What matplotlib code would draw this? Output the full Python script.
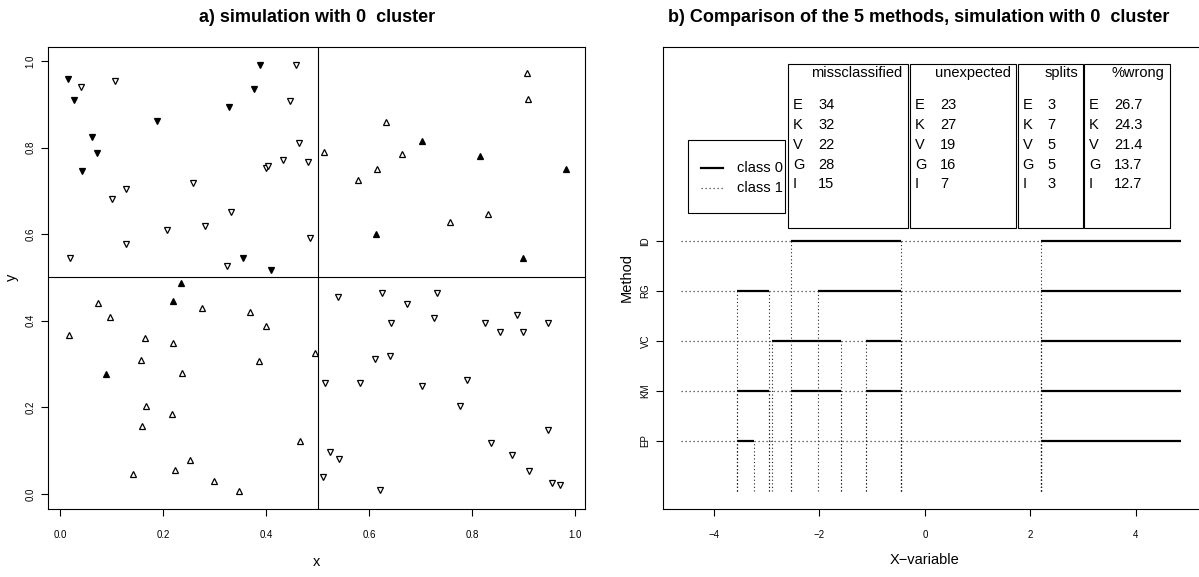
import matplotlib
matplotlib.use('Agg')
import matplotlib.pyplot as plt
from matplotlib.patches import Rectangle
from matplotlib.lines import Line2D

plt.rcParams['font.family'] = ['Liberation Sans', 'DejaVu Sans']

# ---- panel a: simulated points ----
x_open_up = [0.906, 0.908, 0.632, 0.512, 0.664, 0.615, 0.578, 0.830, 0.757,
             0.017, 0.074, 0.097, 0.165, 0.157, 0.219, 0.237, 0.275, 0.368, 0.399,
             0.385, 0.495, 0.166, 0.217, 0.158, 0.142, 0.222, 0.251, 0.298, 0.347, 0.465]
y_open_up = [0.972, 0.912, 0.859, 0.790, 0.785, 0.750, 0.724, 0.647, 0.627,
             0.367, 0.440, 0.409, 0.360, 0.309, 0.349, 0.279, 0.430, 0.420, 0.388,
             0.307, 0.326, 0.204, 0.184, 0.158, 0.045, 0.055, 0.078, 0.031, 0.008, 0.122]

x_fill_up = [0.702, 0.814, 0.981, 0.613, 0.899, 0.234, 0.219, 0.089]
y_fill_up = [0.815, 0.781, 0.750, 0.601, 0.546, 0.488, 0.446, 0.278]

x_open_down = [0.040, 0.106, 0.019, 0.100, 0.128, 0.128, 0.207, 0.258, 0.280, 0.332,
               0.324, 0.399, 0.403, 0.433, 0.446, 0.458, 0.464, 0.481, 0.485,
               0.539, 0.625, 0.731, 0.673, 0.643, 0.726, 0.825, 0.854, 0.887, 0.898,
               0.947, 0.611, 0.640, 0.513, 0.581, 0.703, 0.789, 0.777, 0.947, 0.836,
               0.524, 0.541, 0.878, 0.911, 0.510, 0.621, 0.955, 0.970]
y_open_down = [0.940, 0.953, 0.546, 0.681, 0.704, 0.577, 0.610, 0.719, 0.620, 0.651,
               0.527, 0.752, 0.758, 0.771, 0.907, 0.991, 0.811, 0.767, 0.591,
               0.454, 0.465, 0.465, 0.438, 0.396, 0.406, 0.394, 0.374, 0.414, 0.373,
               0.394, 0.312, 0.319, 0.257, 0.257, 0.249, 0.263, 0.203, 0.148, 0.118,
               0.097, 0.080, 0.090, 0.052, 0.039, 0.009, 0.026, 0.021]

x_fill_down = [0.015, 0.027, 0.061, 0.072, 0.043, 0.188, 0.327, 0.377, 0.388, 0.354, 0.409]
y_fill_down = [0.958, 0.911, 0.825, 0.788, 0.745, 0.861, 0.894, 0.935, 0.990, 0.544, 0.517]

# ---- panel b: split points per method (class 1 first, then alternating) ----
methods = ['EP', 'KM', 'VC', 'RG', 'ID']
breaks_EP = [-3.57, -3.25, 2.21]
breaks_KM = [-3.57, -2.95, -2.55, -1.60, -1.11, -0.45, 2.21]
breaks_VC = [-2.90, -1.60, -1.11, -0.45, 2.21]
breaks_RG = [-3.57, -2.95, -2.03, -0.45, 2.21]
breaks_ID = [-2.55, -0.45, 2.21]
x_lo, x_hi = -4.63, 4.87

letters = ['E', 'K', 'V', 'G', 'I']
missclassified = [34, 32, 22, 28, 15]
unexpected = [23, 27, 19, 16, 7]
splits = [3, 7, 5, 5, 3]
pct_wrong = [26.7, 24.3, 21.4, 13.7, 12.7]

W, H = 1199, 577
fig = plt.figure(figsize=(W / 100, H / 100), dpi=100)


def fx(p):
    return p / W


def fy(p):
    return 1 - p / H


def tidy(ax):
    for s in ax.spines.values():
        s.set_linewidth(0.8)
    ax.tick_params(direction='out', length=5, width=0.8, labelsize=7)


# ---------------- panel a ----------------
ax1 = fig.add_axes([fx(48.3), fy(508.7), fx(585 - 48.3), (508.7 - 47.3) / H])
ax1.set_xlim(-0.0233, 1.0188)
ax1.set_ylim(-0.034, 1.0316)
ax1.axvline(0.5, color='black', lw=0.8)
ax1.axhline(0.5, color='black', lw=0.8)
ms = 5
ax1.plot(x_open_up, y_open_up, '^', ms=ms, mfc='white', mec='black', mew=0.9, ls='none')
ax1.plot(x_fill_up, y_fill_up, '^', ms=ms, mfc='black', mec='black', mew=0.9, ls='none')
ax1.plot(x_open_down, y_open_down, 'v', ms=ms, mfc='white', mec='black', mew=0.9, ls='none')
ax1.plot(x_fill_down, y_fill_down, 'v', ms=ms, mfc='black', mec='black', mew=0.9, ls='none')
ax1.set_xticks([0.0, 0.2, 0.4, 0.6, 0.8, 1.0])
ax1.set_yticks([0.0, 0.2, 0.4, 0.6, 0.8, 1.0])
ax1.set_xticklabels(['0.0', '0.2', '0.4', '0.6', '0.8', '1.0'])
ax1.set_yticklabels(['0.0', '0.2', '0.4', '0.6', '0.8', '1.0'], rotation=90, va='center')
tidy(ax1)
ax1.tick_params(axis='x', pad=10)
ax1.tick_params(axis='y', pad=4)

fig.text(fx(317), fy(562), 'x', ha='center', va='center', fontsize=10.5)
fig.text(fx(12), fy(277), 'y', ha='center', va='center', fontsize=10.5, rotation=90)
fig.text(fx(317), fy(17), 'a) simulation with 0  cluster', ha='center', va='center',
         fontsize=13, fontweight='bold')

# ---------------- panel b ----------------
ax2 = fig.add_axes([fx(663), fy(509), fx(1202 - 663), (509 - 47) / H])
ax2.set_xlim(-4.97, 5.26)
ax2.set_ylim(-0.36, 8.88)

all_breaks = [breaks_EP, breaks_KM, breaks_VC, breaks_RG, breaks_ID]
for level, br in enumerate(all_breaks, start=1):
    edges = [x_lo] + br + [x_hi]
    for i in range(len(edges) - 1):
        if i % 2 == 0:
            ax2.plot([edges[i], edges[i + 1]], [level, level], color='0.25', lw=0.9,
                     ls=(0, (1, 2.2)))
        else:
            ax2.plot([edges[i], edges[i + 1]], [level, level], color='black', lw=1.6,
                     solid_capstyle='butt')
    for b in br:
        ax2.plot([b, b], [0, level], color='0.15', lw=0.8, ls=(0, (1, 2.2)))

ax2.set_xticks([-4, -2, 0, 2, 4])
ax2.set_xticklabels(['\u22124', '\u22122', '0', '2', '4'])
ax2.set_yticks([1, 2, 3, 4, 5])
ax2.set_yticklabels(methods, rotation=90, va='center')
tidy(ax2)
ax2.tick_params(axis='x', pad=10)
ax2.tick_params(axis='y', pad=4)

fig.text(fx(925), fy(560), 'X\u2212variable', ha='center', va='center', fontsize=10.5)
fig.text(fx(627), fy(278), 'Method', ha='center', va='center', fontsize=10.5, rotation=90)
fig.text(fx(919), fy(17), 'b) Comparison of the 5 methods, simulation with 0  cluster',
         ha='center', va='center', fontsize=13, fontweight='bold')

# legend box
fs = 10.5
fig.patches.append(Rectangle((fx(688), fy(212.7)), fx(785 - 688), (212.7 - 140) / H,
                             transform=fig.transFigure, fill=False, lw=0.8, ec='black'))
fig.lines.append(Line2D([fx(700.7), fx(723.2)], [fy(167.7), fy(167.7)], transform=fig.transFigure,
                        color='black', lw=1.6))
fig.lines.append(Line2D([fx(700.7), fx(723.2)], [fy(188.3), fy(188.3)], transform=fig.transFigure,
                        color='0.25', lw=0.9, ls=(0, (1, 2.2))))
fig.text(fx(737), fy(167.7), 'class 0', ha='left', va='center', fontsize=fs)
fig.text(fx(737), fy(188.3), 'class 1', ha='left', va='center', fontsize=fs)

# tables
tables = [('missclassified', missclassified, 788, 907.5),
          ('unexpected', unexpected, 910, 1016),
          ('splits', splits, 1017.5, 1083),
          ('%wrong', pct_wrong, 1084, 1169.5)]
row_y = [105, 125, 145, 165, 184.3]
for title, vals, left, right in tables:
    fig.patches.append(Rectangle((fx(left), fy(227.7)), fx(right - left), (227.7 - 64) / H,
                                 transform=fig.transFigure, fill=False, lw=0.8, ec='black'))
    fig.text(fx(right - 5), fy(73.3), title, ha='right', va='center', fontsize=fs)
    for lab, v, yy in zip(letters, vals, row_y):
        fig.text(fx(left + 5), fy(yy), lab, ha='left', va='center', fontsize=fs)
        fig.text(fx(left + 30), fy(yy), str(v), ha='left', va='center', fontsize=fs)

fig.savefig('out.png', dpi=100)
